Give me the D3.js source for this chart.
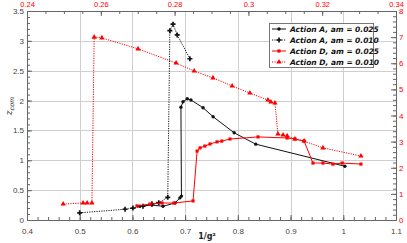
<!DOCTYPE html>
<html>
<head>
<meta charset="utf-8">
<script src="https://cdn.jsdelivr.net/npm/d3@7"></script>
<style>
  body { margin: 0; background: #fff; }
  svg { font-family: "DejaVu Sans", sans-serif; }
</style>
</head>
<body>
<svg id="chart" width="407" height="243"></svg>
<script>
// Action A series: bottom x (1/g^2) vs left y (z_com)
const aSolidX = [0.614, 0.637, 0.658, 0.681, 0.690, 0.693, 0.692, 0.696, 0.704, 0.711, 0.734, 0.753, 0.793, 0.834, 1.003];
const aSolidY = [0.23, 0.25, 0.23, 0.285, 0.37, 0.40, 1.89, 1.98, 2.03, 2.01, 1.88, 1.73, 1.46, 1.27, 0.90];
const aDotX = [0.500, 0.586, 0.601, 0.620, 0.637, 0.650, 0.667, 0.671, 0.677, 0.685, 0.709];
const aDotY = [0.12, 0.18, 0.20, 0.23, 0.27, 0.29, 0.38, 3.17, 3.28, 3.10, 2.70];

// Action D series: top x vs right y
const dSolidX = [0.2698, 0.2733, 0.2766, 0.2798, 0.2850, 0.2861, 0.2869, 0.2882, 0.2896, 0.2915, 0.2928, 0.2950, 0.3026, 0.3105, 0.3126, 0.3151, 0.3175, 0.3202, 0.3229, 0.3254, 0.3305];
const dSolidY = [0.54, 0.61, 0.65, 0.65, 0.73, 2.64, 2.76, 2.83, 2.91, 2.99, 3.02, 3.10, 3.18, 3.14, 3.10, 3.02, 2.18, 2.18, 2.14, 2.18, 2.14];
const dDotX = [0.2498, 0.2552, 0.2563, 0.2576, 0.2582, 0.2603, 0.2701, 0.2804, 0.2853, 0.2904, 0.2956, 0.3004, 0.3053, 0.3061, 0.3072, 0.3080, 0.3094, 0.3105, 0.3126, 0.3151, 0.3202, 0.3305];
const dDotY = [0.61, 0.65, 0.65, 0.65, 7.00, 6.97, 6.55, 6.01, 5.70, 5.44, 5.13, 4.86, 4.59, 4.52, 4.48, 3.29, 3.25, 3.22, 3.10, 3.02, 2.76, 2.45];

const legendLabels = ['Action A, am = 0.025', 'Action A, am = 0.010', 'Action D, am = 0.025', 'Action D, am = 0.010'];

const bottomTicks = [0.4, 0.5, 0.6, 0.7, 0.8, 0.9, 1, 1.1];
const topTicks = [0.24, 0.26, 0.28, 0.3, 0.32, 0.34];
const leftTicks = [0, 0.5, 1, 1.5, 2, 2.5, 3, 3.5];
const rightTicks = [0, 1, 2, 3, 4, 5, 6, 7, 8];

const L = 27, R = 396, T = 11, B = 220;
const svg = d3.select('#chart');

const xB = d3.scaleLinear().domain([0.4, 1.1]).range([L, R]);
const xT = d3.scaleLinear().domain([0.24, 0.34]).range([L, R]);
const yL = d3.scaleLinear().domain([0, 3.5]).range([B, T]);
const yR = d3.scaleLinear().domain([0, 8]).range([B, T]);

// grid
const grid = svg.append('g').attr('stroke', '#cfcfcf').attr('stroke-width', 1);
bottomTicks.slice(1, -1).forEach(v => {
    grid.append('line').attr('x1', Math.round(xB(v)) + 0.5).attr('x2', Math.round(xB(v)) + 0.5).attr('y1', T).attr('y2', B);
});
leftTicks.slice(1, -1).forEach(v => {
    grid.append('line').attr('y1', Math.round(yL(v)) + 0.5).attr('y2', Math.round(yL(v)) + 0.5).attr('x1', L).attr('x2', R);
});

// axes with inward ticks
function minor(scale, step) {
    const [a, b] = scale.domain();
    const n = Math.round((b - a) / step);
    return d3.range(n + 1).map(i => a + i * step);
}

function drawAxis(axis, tr, labelColor) {
    const g = svg.append('g').attr('transform', tr).call(axis);
    g.selectAll('path, line').attr('stroke', '#666');
    g.selectAll('text').attr('fill', labelColor).style('font-size', '8px');
    return g;
}

drawAxis(d3.axisBottom(xB).tickValues(minor(xB, 0.02)).tickSize(-3).tickFormat(''), `translate(0,${B})`, '#444');
drawAxis(d3.axisBottom(xB).tickValues(bottomTicks).tickSize(-5).tickPadding(8).tickFormat(d3.format('~g')), `translate(0,${B})`, '#444');
drawAxis(d3.axisTop(xT).tickValues(minor(xT, 0.005)).tickSize(-3).tickFormat(''), `translate(0,${T})`, 'red');
const topAx = drawAxis(d3.axisTop(xT).tickValues(topTicks).tickSize(-5).tickPadding(0).tickFormat(d3.format('~g')), `translate(0,${T})`, 'red');
topAx.selectAll('text').attr('y', -4.5).style('font-size', '7.5px');
drawAxis(d3.axisLeft(yL).tickValues(minor(yL, 0.1)).tickSize(-3).tickFormat(''), `translate(${L},0)`, '#444');
drawAxis(d3.axisLeft(yL).tickValues(leftTicks).tickSize(-5).tickPadding(3).tickFormat(d3.format('~g')), `translate(${L},0)`, '#444');
drawAxis(d3.axisRight(yR).tickValues(minor(yR, 0.2)).tickSize(-3).tickFormat(''), `translate(${R},0)`, 'red');
drawAxis(d3.axisRight(yR).tickValues(rightTicks).tickSize(-5).tickPadding(3).tickFormat(d3.format('~g')), `translate(${R},0)`, 'red');

// axis titles
svg.append('text').attr('x', 207).attr('y', 239).attr('text-anchor', 'middle')
    .style('font-size', '8px').style('font-weight', 'bold').attr('fill', '#222').text('1/g²');
const yt = svg.append('text').attr('transform', 'translate(12,106) rotate(-90)').attr('text-anchor', 'middle')
    .style('font-family', '"DejaVu Serif", serif').style('font-style', 'italic').style('font-size', '9px').attr('fill', '#222');
yt.append('tspan').text('z');
yt.append('tspan').attr('dy', 2).style('font-size', '6.5px').text('com');

// series
const series = [
    { xs: aSolidX, ys: aSolidY, x: xB, y: yL, color: '#111', dash: null, sym: d3.symbolCircle, size: 9 },
    { xs: aDotX, ys: aDotY, x: xB, y: yL, color: '#111', dash: '1.2,1.2', sym: d3.symbolCross, size: 14 },
    { xs: dSolidX, ys: dSolidY, x: xT, y: yR, color: '#f00', dash: null, sym: d3.symbolSquare, size: 10 },
    { xs: dDotX, ys: dDotY, x: xT, y: yR, color: '#f00', dash: '1.2,1.2', sym: d3.symbolTriangle, size: 12 }
];

series.forEach(s => {
    const pts = s.xs.map((v, i) => [s.x(v), s.y(s.ys[i])]);
    svg.append('path').datum(pts)
        .attr('d', d3.line())
        .attr('fill', 'none').attr('stroke', s.color).attr('stroke-width', 1)
        .attr('stroke-dasharray', s.dash);
    svg.append('g').selectAll('path').data(pts).join('path')
        .attr('transform', d => `translate(${d[0]},${d[1]})`)
        .attr('d', d3.symbol(s.sym, s.size))
        .attr('fill', s.color);
});

// legend
const lg = svg.append('g');
lg.append('rect').attr('x', 269.5).attr('y', 23.5).attr('width', 104).attr('height', 44)
    .attr('fill', '#fff').attr('stroke', '#777');
series.forEach((s, i) => {
    const yy = 29 + i * 11;
    lg.append('line').attr('x1', 272).attr('x2', 286).attr('y1', yy).attr('y2', yy)
        .attr('stroke', s.color).attr('stroke-dasharray', s.dash);
    lg.append('path').attr('transform', `translate(279,${yy})`).attr('d', d3.symbol(s.sym, s.size)).attr('fill', s.color);
    lg.append('text').attr('x', 290).attr('y', yy + 3)
        .style('font-size', '7.5px').style('font-weight', 'bold').style('font-style', 'italic')
        .attr('fill', '#111').text(legendLabels[i]);
});
</script>
</body>
</html>
